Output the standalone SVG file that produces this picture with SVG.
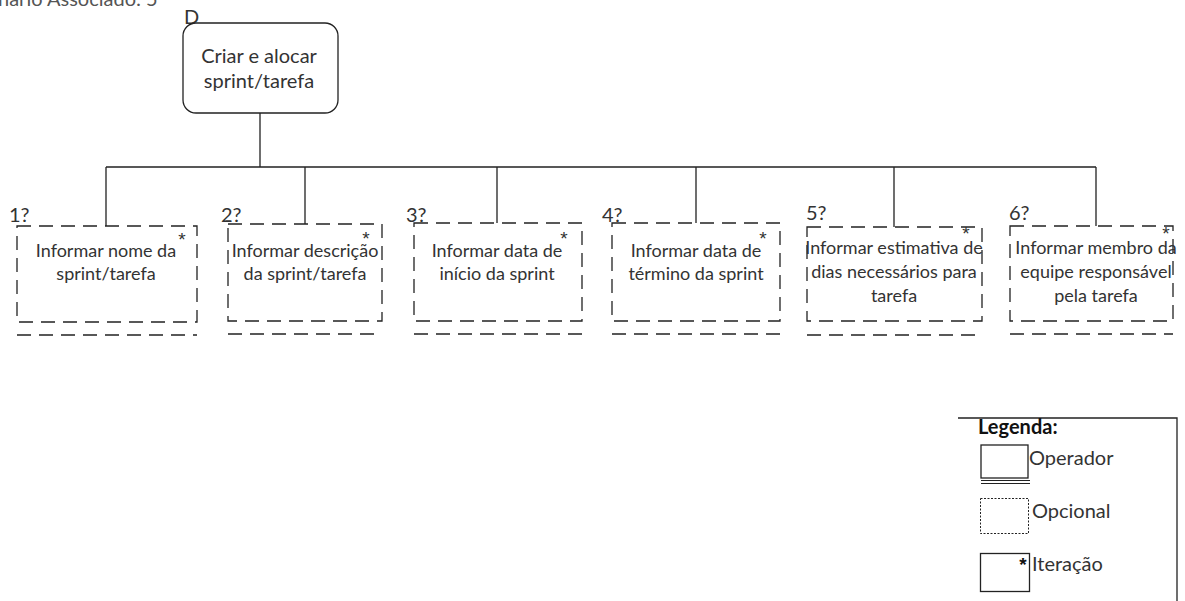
<svg xmlns="http://www.w3.org/2000/svg" width="1185" height="601" viewBox="0 0 1185 601">
<style>
text{font-family:Lato,"Liberation Sans",sans-serif;fill:#333}
.t{font-size:18px;text-anchor:middle}
.r{font-size:20px;text-anchor:middle}
.lbl{font-size:20px}
.st{font-family:"Liberation Sans",sans-serif;font-size:19px;text-anchor:middle}
.lg{font-size:20px}
.ln{stroke:#222;stroke-width:1.3;fill:none}
.db{stroke:#222;stroke-width:1.3;fill:#fff;stroke-dasharray:14 8}
.dl{stroke:#222;stroke-width:1.3;fill:none;stroke-dasharray:14 8}
</style>
<rect width="1185" height="601" fill="#fff"/>
<text x="-2" y="6" style="font-size:20px;fill:#555">nário Associado: 5</text>

<g id="connectors">
<path class="ln" d="M260 113V167M106 167H1096M106 167V226M305 167V224M497 167V223M696 167V223M894 167V227M1096 167V226"/>
</g>

<g id="root">
<text x="184" y="24" class="lbl">D</text>
<rect x="183" y="23" width="155" height="90" rx="13" class="ln"/>
<text x="259" y="63" class="r">Criar e alocar</text>
<text x="259" y="88" class="r">sprint/tarefa</text>
</g>

<g id="n1">
<text x="9" y="222" class="lbl">1?</text>
<rect x="17" y="226" width="180" height="96" class="db"/>
<line x1="17" y1="335" x2="197" y2="335" class="dl"/>
<text x="182" y="246" class="st">*</text>
<text x="106" y="257" class="t">Informar nome da</text>
<text x="106" y="280" class="t">sprint/tarefa</text>
</g>

<g id="n2">
<text x="221" y="222" class="lbl">2?</text>
<rect x="228" y="224" width="154" height="97" class="db"/>
<line x1="228" y1="334" x2="382" y2="334" class="dl"/>
<text x="366" y="245" class="st">*</text>
<text x="305" y="257" class="t">Informar descrição</text>
<text x="305" y="280" class="t">da sprint/tarefa</text>
</g>

<g id="n3">
<text x="406" y="222" class="lbl">3?</text>
<rect x="414" y="223" width="168" height="98" class="db"/>
<line x1="414" y1="334" x2="582" y2="334" class="dl"/>
<text x="564" y="245" class="st">*</text>
<text x="497" y="257" class="t">Informar data de</text>
<text x="497" y="280" class="t">início da sprint</text>
</g>

<g id="n4">
<text x="602" y="222" class="lbl">4?</text>
<rect x="612" y="223" width="168" height="98" class="db"/>
<line x1="612" y1="334" x2="780" y2="334" class="dl"/>
<text x="763" y="245" class="st">*</text>
<text x="696" y="257" class="t">Informar data de</text>
<text x="696" y="280" class="t">término da sprint</text>
</g>

<g id="n5">
<text x="806" y="220" class="lbl">5?</text>
<rect x="807" y="227" width="175" height="94" class="db"/>
<line x1="807" y1="335" x2="982" y2="335" class="dl"/>
<text x="966" y="240" class="st">*</text>
<text x="894" y="254" class="t">Informar estimativa de</text>
<text x="894" y="278" class="t">dias necessários para</text>
<text x="894" y="302" class="t">tarefa</text>
</g>

<g id="n6">
<text x="1009" y="220" class="lbl">6?</text>
<rect x="1010" y="226" width="163" height="95" class="db"/>
<line x1="1010" y1="334" x2="1173" y2="334" class="dl"/>
<text x="1166" y="240" class="st">*</text>
<text x="1096" y="254" class="t">Informar membro da</text>
<text x="1096" y="278" class="t">equipe responsável</text>
<text x="1096" y="302" class="t">pela tarefa</text>
</g>

<g id="legend">
<path class="ln" d="M958 418H1177V605"/>
<text x="978" y="434" class="lg" style="font-weight:bold;fill:#111">Legenda:</text>
<rect x="981" y="445" width="47" height="33" class="ln"/>
<path class="ln" d="M981 480.5H1030M981 483.5H1030" style="stroke-width:1"/>
<text x="1029" y="465" class="lg">Operador</text>
<rect x="980.5" y="498.5" width="48" height="35" class="ln" style="stroke-width:1;stroke-dasharray:2 1.5"/>
<text x="1032" y="518" class="lg">Opcional</text>
<rect x="980.5" y="553.5" width="49" height="38" class="ln"/>
<text x="1023" y="571" class="st" style="font-weight:bold;fill:#111">*</text>
<text x="1032" y="571" class="lg">Iteração</text>
</g>
</svg>
